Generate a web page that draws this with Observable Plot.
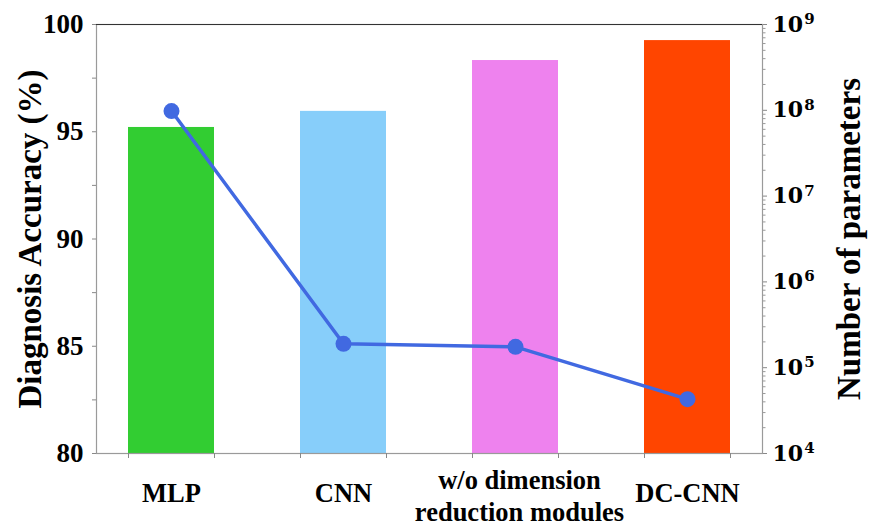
<!DOCTYPE html>
<html>
<head>
<meta charset="utf-8">
<script src="https://cdn.jsdelivr.net/npm/d3@7"></script>
<script src="https://cdn.jsdelivr.net/npm/@observablehq/plot@0.6"></script>
<style>
  html, body { margin: 0; padding: 0; background: #fff; }
  #wrap { position: relative; width: 870px; height: 525px; }
  #wrap svg { position: absolute; left: 0; top: 0; overflow: visible; }
</style>
</head>
<body>
<div id="wrap"></div>
<script>
const models = ["MLP", "CNN", "w/o dimension reduction modules", "DC-CNN"];
const accuracy = [95.2, 95.95, 98.32, 99.25];
const parameters = [9.8e7, 1.9e5, 1.75e5, 4.3e4];
const barColors = ["#32cd32", "#87cefa", "#ee82ee", "#ff4500"];
const accTicks = [80, 85, 90, 95, 100];
const accMinorTicks = [82.5, 87.5, 92.5, 97.5];
const paramTicks = [1e4, 1e5, 1e6, 1e7, 1e8, 1e9];
const paramTickBase = "10";
const paramTickExponents = ["4", "5", "6", "7", "8", "9"];
const xLabels = ["MLP", "CNN", "w/o dimension\nreduction modules", "DC-CNN"];

const data = models.map((m, i) => ({model: m, acc: accuracy[i], params: parameters[i], color: barColors[i], label: xLabels[i]}));

const paramMinor = [];
for (let e = 4; e < 9; e++) for (let k = 2; k <= 9; k++) paramMinor.push(k * Math.pow(10, e));

const W = 870, H = 525;
const M = {top: 24, right: 108, bottom: 72, left: 96};
const serif = "'Liberation Serif', 'Times New Roman', serif";

const bars = Plot.plot({
  width: W, height: H,
  marginTop: M.top, marginRight: M.right, marginBottom: M.bottom, marginLeft: M.left,
  style: {fontFamily: serif, background: "transparent", color: "#000"},
  x: {type: "band", domain: models, paddingInner: 0.5, paddingOuter: 0.186, axis: null},
  y: {type: "linear", domain: [80, 100], axis: null},
  marks: [
    Plot.barY(data, {x: "model", y1: 80, y2: "acc", fill: "color"}),
    Plot.frame({stroke: "#9a9a9a", strokeWidth: 1.2}),
    Plot.ruleY([100], {stroke: "#333", strokeWidth: 1.2}),
    Plot.axisY({ticks: accTicks, label: null, tickSize: 4, tickPadding: 9, fontSize: 27, fontWeight: "bold", stroke: "#888", fill: "#000"}),
    Plot.axisY({ticks: accMinorTicks, label: null, tickSize: 4, tickFormat: () => "", stroke: "#888"}),
    Plot.axisX({label: null, tickSize: 5, tickFormat: () => "", stroke: "#888", dx: -43}),
    Plot.axisX({label: null, tickSize: 5, tickFormat: () => "", stroke: "#888", dx: 43}),
    Plot.axisX({ticks: ["MLP", "CNN", "DC-CNN"], label: null, tickSize: 0, tickPadding: 40, lineAnchor: "middle", fontSize: 26.5, fontWeight: "bold", fill: "#000"}),
    Plot.axisX({ticks: ["w/o dimension reduction modules"], label: null, tickSize: 0, tickPadding: 41, lineAnchor: "middle", lineHeight: 1.2, fontSize: 26.5, fontWeight: "bold", fill: "#000", dx: 4,
      tickFormat: d => xLabels[models.indexOf(d)]}),
    Plot.text(["Diagnosis Accuracy (%)"], {frameAnchor: "left", textAnchor: "middle", lineAnchor: "middle", dx: -66, rotate: -90, fontSize: 33, fontWeight: "bold", fill: "#000"})
  ]
});

const line = Plot.plot({
  width: W, height: H,
  marginTop: M.top, marginRight: M.right, marginBottom: M.bottom, marginLeft: M.left,
  style: {fontFamily: serif, background: "transparent", color: "#000"},
  x: {type: "point", domain: models, padding: 0.436, axis: null},
  y: {type: "log", domain: [1e4, 1e9], axis: null},
  marks: [
    Plot.line(data, {x: "model", y: "params", stroke: "#4169e1", strokeWidth: 3.5}),
    Plot.dot(data, {x: "model", y: "params", r: 8, fill: "#4169e1", stroke: "none"}),
    Plot.axisY({anchor: "right", label: null, ticks: paramMinor, tickSize: 2.5, tickFormat: () => "", stroke: "#999"}),
    Plot.axisY({anchor: "right", label: null, ticks: paramTicks, tickSize: 4, tickPadding: 6, stroke: "#888",
      tickFormat: d => paramTickBase + "^" + paramTickExponents[paramTicks.indexOf(d)],
      fontSize: 22, fontWeight: "bold", fontFamily: "'DejaVu Serif', serif", fill: "#000"}),
    Plot.text(["Number of parameters"], {frameAnchor: "right", textAnchor: "middle", lineAnchor: "middle", dx: 87, rotate: -90, fontSize: 33, fontWeight: "bold", fill: "#000"})
  ]
});

// turn "10^n" tick labels into base + raised exponent (real text)
line.querySelectorAll("text").forEach(t => {
  const s = t.textContent;
  const m = /^(\d+)\^(\d+)$/.exec(s);
  if (!m) return;
  t.textContent = m[1];
  const sup = document.createElementNS("http://www.w3.org/2000/svg", "tspan");
  sup.setAttribute("dy", "-0.5em");
  sup.setAttribute("font-size", "15");
  sup.setAttribute("dx", "1");
  sup.textContent = m[2];
  t.appendChild(sup);
});

const wrap = document.getElementById("wrap");
wrap.appendChild(bars);
wrap.appendChild(line);
</script>
</body>
</html>
